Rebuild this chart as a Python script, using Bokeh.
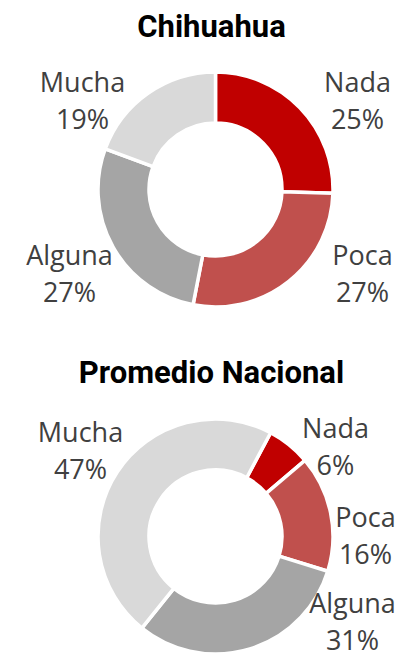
import math
from bokeh.plotting import figure
from bokeh.models import Range1d, ColumnDataSource
from bokeh.embed import file_html
from bokeh.resources import INLINE
from bokeh.core.properties import value

# ---- data ----
categories = ["Nada", "Poca", "Alguna", "Mucha"]
titles = ["Chihuahua", "Promedio Nacional"]
chihuahua = [25, 27, 27, 19]
nacional = [6, 16, 31, 47]

# ---- styles / layout ----
colors = ["#C00000", "#C0504D", "#A5A5A5", "#D9D9D9"]
FONT = "Open Sans"
TITLE_FONT = "Roboto"
LABEL_COLOR = "#404040"

W, H = 400, 660
p = figure(width=W, height=H, x_range=Range1d(0, 400), y_range=Range1d(0, 660),
           output_backend="svg", toolbar_location=None, min_border=0)
p.axis.visible = False
p.grid.visible = False
p.outline_line_color = None
p.background_fill_color = "white"

TEXT_SHIFT = 11  # compensate for baseline placement

def sy(y):
    return 660 - y

def ty(y):
    return 660 - (y - TEXT_SHIFT)

charts = [
    dict(title=titles[0], vals=chihuahua, cx=215, cy=189, start=0, title_y=37,
         lab=[(357, 92), (362, 265), (69, 265), (82, 92)]),
    dict(title=titles[1], vals=nacional, cx=215, cy=536, start=28, title_y=383,
         lab=[(335, 438), (365, 527), (352, 613), (80, 442)]),
]

R_OUT, R_IN = 117.5, 66.5
LINE_GAP = 37

for c in charts:
    vals = c["vals"]
    total = float(sum(vals))
    starts, ends = [], []
    acc = c["start"]
    for v in vals:
        th1 = acc
        th2 = acc + v / total * 360.0
        starts.append(math.radians(90 - th1))
        ends.append(math.radians(90 - th2))
        acc = th2
    src = ColumnDataSource(dict(x=[c["cx"]] * len(vals), y=[sy(c["cy"])] * len(vals),
                                start=starts, end=ends, color=colors))
    p.annular_wedge(x="x", y="y", inner_radius=R_IN, outer_radius=R_OUT,
                    start_angle="start", end_angle="end", direction="clock",
                    fill_color="color", line_color="white", line_width=3.5, source=src)

    lx = [pt[0] for pt in c["lab"]]
    ly1 = [ty(pt[1]) for pt in c["lab"]]
    ly2 = [ty(pt[1] + LINE_GAP) for pt in c["lab"]]
    p.text(x=lx, y=ly1, text=categories, text_align="center", text_baseline="alphabetic",
           text_font=value(FONT), text_font_size="27px", text_color=LABEL_COLOR)
    p.text(x=lx, y=ly2, text=[f"{v}%" for v in vals], text_align="center",
           text_baseline="alphabetic", text_font=value(FONT), text_font_size="27px",
           text_color=LABEL_COLOR)
    p.text(x=[211], y=[ty(c["title_y"])], text=[c["title"]], text_align="center",
           text_baseline="alphabetic", text_font=value(TITLE_FONT), text_font_size="31px",
           text_font_style="bold", text_color="black")

open("out.html", "w").write(file_html(p, INLINE))
